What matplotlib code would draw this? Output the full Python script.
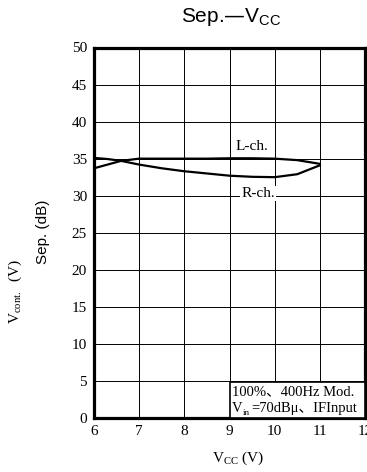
import matplotlib
matplotlib.use("Agg")
import matplotlib.pyplot as plt
from matplotlib.patches import Rectangle
from matplotlib.transforms import offset_copy

# Data
vcc_l = [6.0, 6.3, 6.6, 7.0, 7.5, 8.0, 8.5, 9.0, 9.5, 10.0, 10.5, 11.0]
sep_l = [33.7, 34.2, 34.7, 35.0, 35.0, 35.0, 35.0, 35.05, 35.05, 35.0, 34.8, 34.3]
vcc_r = [6.0, 6.3, 6.6, 7.0, 7.5, 8.0, 8.5, 9.0, 9.5, 10.0, 10.5, 11.0]
sep_r = [35.1, 34.95, 34.7, 34.2, 33.7, 33.3, 33.0, 32.7, 32.55, 32.5, 32.9, 34.1]
xticks = [6, 7, 8, 9, 10, 11, 12]
yticks = [0, 5, 10, 15, 20, 25, 30, 35, 40, 45, 50]

serif = ["Liberation Serif", "Noto Sans CJK JP", "DejaVu Serif"]
sans = ["Liberation Sans", "DejaVu Sans"]

fig = plt.figure(figsize=(3.67, 4.72), dpi=100)
ax = fig.add_axes([94 / 367, 54 / 472, 271 / 367, 370.5 / 472])
ax.set_xlim(6, 12)
ax.set_ylim(0, 50)
ax.set_xticks(xticks)
ax.set_yticks(yticks)
ax.set_xticklabels([str(t) for t in xticks], family=serif, fontsize=11)
ax.set_yticklabels([str(t) for t in yticks], family=serif, fontsize=11)
ax.tick_params(length=0, pad=5)
ax.grid(True, color="black", linewidth=0.7)
ax.set_axisbelow(True)
for s in ax.spines.values():
    s.set_linewidth(2.3)
    s.set_color("black")

ax.plot(vcc_l, sep_l, color="black", linewidth=1.6, zorder=3)
ax.plot(vcc_r, sep_r, color="black", linewidth=1.6, zorder=3)

ax.text(9.5, 36.6, "L-ch.", family=serif, fontsize=11, ha="center", va="center",
        bbox=dict(facecolor="white", edgecolor="none", pad=1), zorder=4)
ax.text(9.63, 30.3, "R-ch.", family=serif, fontsize=11, ha="center", va="center",
        bbox=dict(facecolor="white", edgecolor="none", pad=1), zorder=4)

# annotation box
ax.add_patch(Rectangle((9.0, 0), 3.0, 4.8, facecolor="white", edgecolor="black",
                       linewidth=1.2, zorder=4))
ax.text(9.06, 3.6, "100%、400Hz Mod.", family=serif, fontsize=10.5, ha="left",
        va="center", zorder=5)
ax.text(9.06, 1.25, "V", family=serif, fontsize=10.5, ha="left",
        va="center", zorder=5)
ax.text(9.06, 1.25, "in", family=serif, fontsize=6.5, ha="left", va="center",
        zorder=5, transform=offset_copy(ax.transData, fig=fig, x=7.5, y=-3, units="points"))
ax.text(9.06, 1.25, "=70dBμ、IFInput", family=serif, fontsize=10.5, ha="left",
        va="center", zorder=5,
        transform=offset_copy(ax.transData, fig=fig, x=13.5, y=0, units="points"))

fig.text(231 / 367, 1 - 17 / 472, "Sep.—V$_{\\mathregular{CC}}$", family=sans,
         fontsize=15, ha="center", va="center")
fig.text(238 / 367, 1 - 458 / 472, "V$_{\\mathregular{CC}}$ (V)", family=serif,
         fontsize=11, ha="center", va="center")
fig.text(43 / 367, 1 - 232 / 472, "Sep. (dB)", family=sans, fontsize=11,
         rotation=90, ha="center", va="center")
fig.text(15 / 367, 1 - 292 / 472, "V$_{\\mathregular{cont.}}$  (V)", family=serif,
         fontsize=11, rotation=90, ha="center", va="center")

fig.savefig("out.png", dpi=100)
